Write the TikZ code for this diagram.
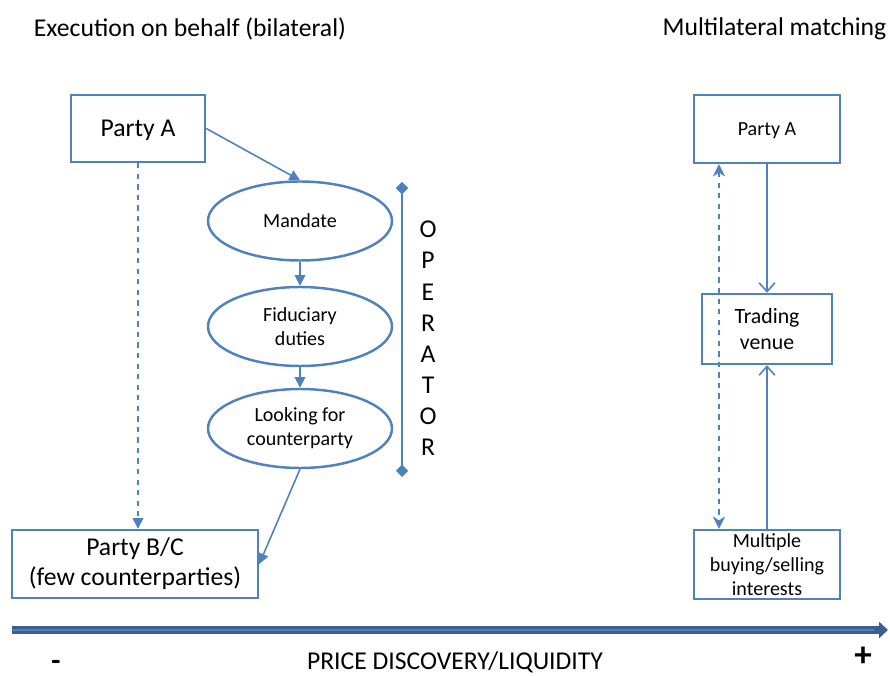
\documentclass[tikz,border=0pt]{standalone}
\usepackage{fontspec}
\setmainfont{Carlito}
\usetikzlibrary{positioning, shapes.geometric, arrows.meta}
\definecolor{lineblue}{HTML}{4F81BD}
\definecolor{darkblue}{HTML}{3A5F8F}

\begin{document}
\begin{tikzpicture}[
    box/.style={
    draw=lineblue,
    line width=1.4pt,
    rectangle,
    align=center,
    inner sep=2pt},
    oval/.style={
    draw=lineblue,
    line width=1.4pt,
    ellipse,
    align=center,
    font=\fontsize{11.4}{13.5}\selectfont,
    minimum width=3.68cm,
    minimum height=1.58cm},
    link/.style={
    draw=lineblue,
    line width=0.9pt},
    big/.style={font=\fontsize{14.6}{17}\selectfont},
    small/.style={font=\fontsize{11.4}{13.5}\selectfont}]

    \useasboundingbox (0,0) rectangle (17.8,13.5);

    % headings
    \node[big] (t1) at (3.8,12.92) {Execution on behalf (bilateral)};
    \node[big] (t2) at (15.49,12.92) {Multilateral matching};

    % bilateral side
    \node[box, big, text depth=0pt, minimum width=2.68cm, minimum height=1.34cm] (pa) at (2.76,10.93) {Party A};
    \node[oval] (man) at (6,9.08) {Mandate};
    \node[oval] (fid) at (6,6.97) {Fiduciary\\duties};
    \node[oval] (look) at (6,4.93) {Looking for\\counterparty};
    \node[box, big, minimum width=4.92cm, minimum height=1.36cm] (pbc) at (2.7,2.22) {Party B/C\\(few counterparties)};

    \coordinate (optop) at (8.04,9.86);
    \coordinate (opbot) at (8.04,3.96);
    \draw[link, line width=1.1pt, {Diamond[length=7pt,width=7pt]}-{Diamond[length=7pt,width=7pt]}] (optop) -- (opbot);
    \node[align=center, font=\fontsize{14.6}{17.75}\selectfont] (op) at (8.56,6.73) {O\\P\\E\\R\\A\\T\\O\\R};

    \draw[link, -{Triangle[length=6pt,width=6pt]}] (pa.east) -- (man.north);
    \draw[link, -{Triangle[length=6pt,width=6pt]}] (man) -- (fid);
    \draw[link, -{Triangle[length=6pt,width=6pt]}] (fid) -- (look);
    \draw[link, -{Triangle[length=6pt,width=6pt]}] (look.south) -- (pbc.east);
    \draw[link, dashed, -{Triangle[length=6pt,width=6pt]}] (pa.south) -- (pa.south |- pbc.north);

    % multilateral side
    \node[box, small, text depth=0pt, minimum width=2.92cm, minimum height=1.36cm] (pa2) at (15.34,10.92) {Party A};
    \node[box, font=\fontsize{12.4}{14.5}\selectfont, minimum width=2.6cm, minimum height=1.4cm] (tv) at (15.34,6.92) {Trading\\venue};
    \node[box, small, inner sep=0pt, minimum width=2.92cm, minimum height=1.38cm] (mi) at (15.34,2.21) {Multiple\\buying/selling\\interests};

    \coordinate (dl) at (14.38,0);
    \draw[link, -{Straight Barb[length=5pt,width=9pt]}] (pa2) -- (tv);
    \draw[link, -{Straight Barb[length=5pt,width=9pt]}] (mi) -- (tv);
    \draw[link, dashed, {Stealth[length=7pt,width=7pt]}-{Stealth[length=7pt,width=7pt]}] (pa2.south -| dl) -- (mi.north -| dl);

    % price discovery axis
    \coordinate (axl) at (0.24,0.9);
    \coordinate (axr) at (17.76,0.9);
    \draw[darkblue, line width=4pt, -{Triangle[length=5pt,width=9pt]}] (axl) -- (axr);
    \draw[lineblue, line width=1.2pt] (axl) -- ([xshift=-8pt]axr);
    \node[inner sep=0pt, font=\bfseries\fontsize{17}{20}\selectfont] (minus) at (1.12,0.2) {-};
    \node[big] (pd) at (9.1,0.26) {PRICE DISCOVERY/LIQUIDITY};
    \node[inner sep=0pt, font=\bfseries\fontsize{20}{24}\selectfont] (plus) at (17.26,0.36) {+};
\end{tikzpicture}
\end{document}
